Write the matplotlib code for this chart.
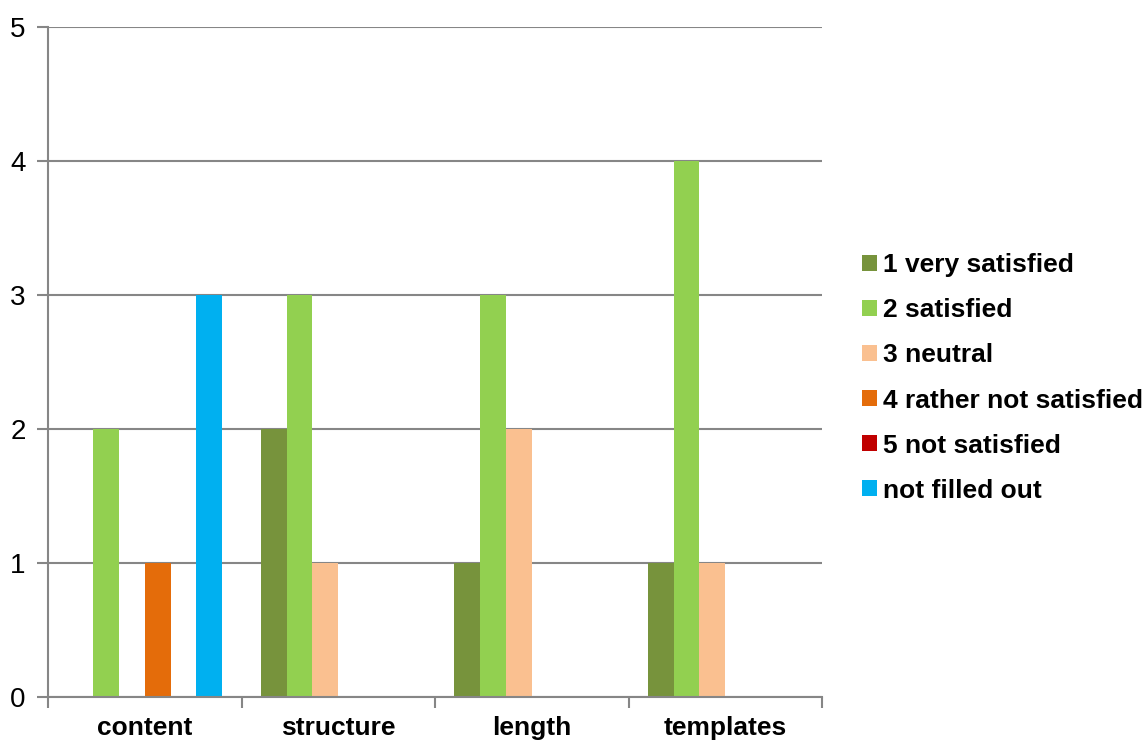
import matplotlib
matplotlib.use("Agg")
import matplotlib.pyplot as plt
from matplotlib.patches import Patch
import numpy as np

plt.rcParams['font.family'] = ['Liberation Sans', 'DejaVu Sans']

categories = ["content", "structure", "length", "templates"]
series_names = ["1 very satisfied", "2 satisfied", "3 neutral",
                "4 rather not satisfied", "5 not satisfied", "not filled out"]
very_satisfied = [0, 2, 1, 1]
satisfied = [2, 3, 3, 4]
neutral = [0, 1, 2, 1]
rather_not = [1, 0, 0, 0]
not_satisfied = [0, 0, 0, 0]
not_filled = [3, 0, 0, 0]
series_values = [very_satisfied, satisfied, neutral, rather_not, not_satisfied, not_filled]
colors = ["#77933C", "#92D050", "#FAC090", "#E46C0A", "#C00000", "#00B0F0"]

fig = plt.figure(figsize=(11.46, 7.41), dpi=100)
ax = fig.add_axes([48 / 1146, 1 - 697 / 741, (822 - 48) / 1146, (697 - 27) / 741])

x = np.arange(len(categories))
n = len(series_values)
width = 0.8 / n
for i, (vals, col) in enumerate(zip(series_values, colors)):
    ax.bar(x + (i - (n - 1) / 2) * width, vals, width, color=col, zorder=3)

grid_col = "#868686"
ax.set_xlim(-0.5, len(categories) - 0.5)
ax.set_ylim(0, 5)
ax.set_yticks(range(6))
ax.yaxis.grid(True, color=grid_col, linewidth=1.5, zorder=0)
for s in ["top", "right"]:
    ax.spines[s].set_visible(False)
for s in ["left", "bottom"]:
    ax.spines[s].set_color(grid_col)
    ax.spines[s].set_linewidth(1.5)
    ax.spines[s].set_zorder(4)

ax.set_xticks(x)
ax.set_xticklabels(categories, fontsize=19, fontweight="bold")
ax.tick_params(axis="x", which="major", length=0, pad=14)
ax.set_xticks(np.arange(-0.5, len(categories)), minor=True)
ax.tick_params(axis="x", which="minor", length=8, width=1.5, color=grid_col)
ax.tick_params(axis="y", length=8, width=1.5, color=grid_col, labelsize=20, pad=8)

handles = [Patch(facecolor=c, edgecolor="none") for c in colors]
fig.legend(handles, series_names, loc="center left", bbox_to_anchor=(862 / 1146, 1 - 378 / 741),
           frameon=False, prop={"size": 19, "weight": "bold"},
           handlelength=0.55, handleheight=0.55, handletextpad=0.25, labelspacing=0.8,
           borderaxespad=0, borderpad=0)

fig.savefig("out.png", dpi=100)
